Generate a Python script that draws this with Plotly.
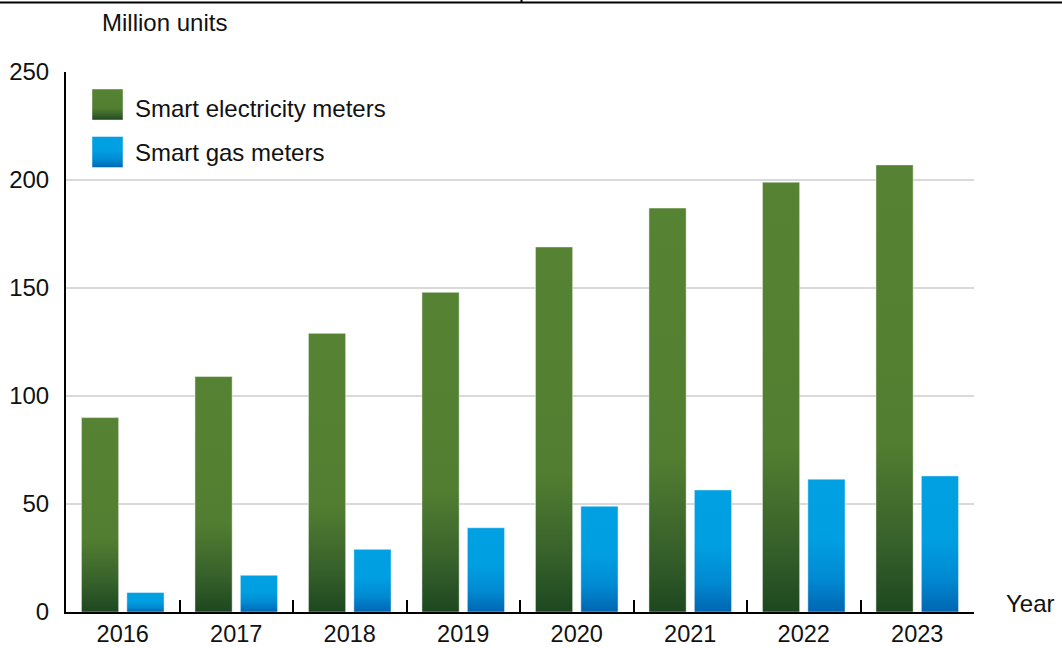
import plotly.graph_objects as go

# ---- data ----
years = ["2016", "2017", "2018", "2019", "2020", "2021", "2022", "2023"]
electricity = [90, 109, 129, 148, 169, 187, 199, 207]
gas = [9, 17, 29, 39, 49, 56.5, 61.5, 63]
series_names = ["Smart electricity meters", "Smart gas meters"]
y_ticks = [0, 50, 100, 150, 200, 250]

GREEN = "#558232"
BLUE = "#009fe3"
FONT = "Liberation Sans, Arial, sans-serif"
FS = 24

W, H = 1062, 648
L, R, T, B = 66, 974, 72, 612  # plot area in pixels


def px(x):
    return (x - L) / (R - L)


def py(y):
    return (B - y) / (B - T)


fig = go.Figure()
fig.add_trace(go.Bar(x=years, y=electricity, name=series_names[0],
                     marker=dict(color=GREEN, line=dict(color="rgba(255,255,255,0.45)", width=1)),
                     showlegend=False))
fig.add_trace(go.Bar(x=years, y=gas, name=series_names[1],
                     marker=dict(color=BLUE, line=dict(color="rgba(255,255,255,0.45)", width=1)),
                     showlegend=False))

shapes = []
annotations = []
# legend swatches and labels
swatch_top = [89, 136.5]
label_mid = [108, 152]
for name, col, y0, ym in zip(series_names, [GREEN, BLUE], swatch_top, label_mid):
    shapes.append(dict(type="rect", xref="paper", yref="paper",
                       x0=px(92), x1=px(123), y0=py(y0), y1=py(y0 + 31),
                       fillcolor=col, line=dict(color="rgba(255,255,255,0.45)", width=1), layer="above"))
    annotations.append(dict(text=name, xref="paper", yref="paper", x=px(133), y=py(ym),
                            xanchor="left", yanchor="middle", showarrow=False,
                            font=dict(family=FONT, size=FS, color="#111")))

annotations.append(dict(text="Million units", xref="paper", yref="paper", x=px(100), y=py(22),
                        xanchor="left", yanchor="middle", showarrow=False,
                        font=dict(family=FONT, size=FS, color="#111")))
annotations.append(dict(text="Year", xref="paper", yref="paper", x=px(1004), y=py(603),
                        xanchor="left", yanchor="middle", showarrow=False,
                        font=dict(family=FONT, size=FS, color="#111")))

# top border fragment
shapes.append(dict(type="line", xref="paper", yref="paper", x0=px(0), x1=px(1062), y0=py(2.5), y1=py(2.5),
                   line=dict(color="black", width=2)))
shapes.append(dict(type="line", xref="paper", yref="paper", x0=px(521.5), x1=px(521.5), y0=py(0), y1=py(3),
                   line=dict(color="black", width=2)))

fig.update_layout(
    width=W, height=H,
    margin=dict(l=L, r=W - R, t=T, b=H - B),
    paper_bgcolor="white", plot_bgcolor="white",
    barmode="group", bargap=0.2, bargroupgap=0.18,
    font=dict(family=FONT, size=FS, color="#111"),
    shapes=shapes, annotations=annotations,
    showlegend=False,
)
fig.update_xaxes(type="category", showline=True, linecolor="black", linewidth=2,
                 ticks="inside", tickson="boundaries", ticklen=12, tickwidth=2, tickcolor="black",
                 showgrid=False, tickfont=dict(family=FONT, size=23.5, color="#111"),
                 ticklabelstandoff=0, automargin=False)
fig.update_yaxes(range=[0, 250], tickvals=y_ticks, showline=True, linecolor="black", linewidth=2,
                 showgrid=True, gridcolor="#d9d9d9", gridwidth=2, zeroline=False,
                 ticks="", ticklabelstandoff=10, tickfont=dict(family=FONT, size=FS, color="#111"),
                 automargin=False)

post = """
var gd = document.getElementById('{plot_id}');
function applyGrad(){
  var svg = gd.querySelector('svg.main-svg');
  if(!svg) return;
  var ns = 'http://www.w3.org/2000/svg';
  var defs = svg.querySelector('defs');
  if(!defs){ defs = document.createElementNS(ns,'defs'); svg.insertBefore(defs, svg.firstChild); }
  function mk(id, stops){
    if(document.getElementById(id)) return;
    var g = document.createElementNS(ns,'linearGradient');
    g.setAttribute('id', id); g.setAttribute('x1','0'); g.setAttribute('y1','0');
    g.setAttribute('x2','0'); g.setAttribute('y2','1');
    stops.forEach(function(s){
      var st = document.createElementNS(ns,'stop');
      st.setAttribute('offset', s[0]); st.setAttribute('stop-color', s[1]);
      g.appendChild(st);
    });
    defs.appendChild(g);
  }
  mk('gradGreen', [['0','#568333'],['0.62','#527e31'],['0.85','#36602a'],['1','#1d4820']]);
  mk('gradBlue', [['0','#00a0e3'],['0.45','#009fe2'],['0.75','#008ad2'],['1','#0066b2']]);
  gd.querySelectorAll('path').forEach(function(p){
    var f = p.style.fill;
    if(f === 'rgb(85, 130, 50)') p.style.fill = 'url(#gradGreen)';
    else if(f === 'rgb(0, 159, 227)') p.style.fill = 'url(#gradBlue)';
  });
}
applyGrad();
gd.on('plotly_afterplot', applyGrad);
"""

fig.write_html("out.html", post_script=post)
